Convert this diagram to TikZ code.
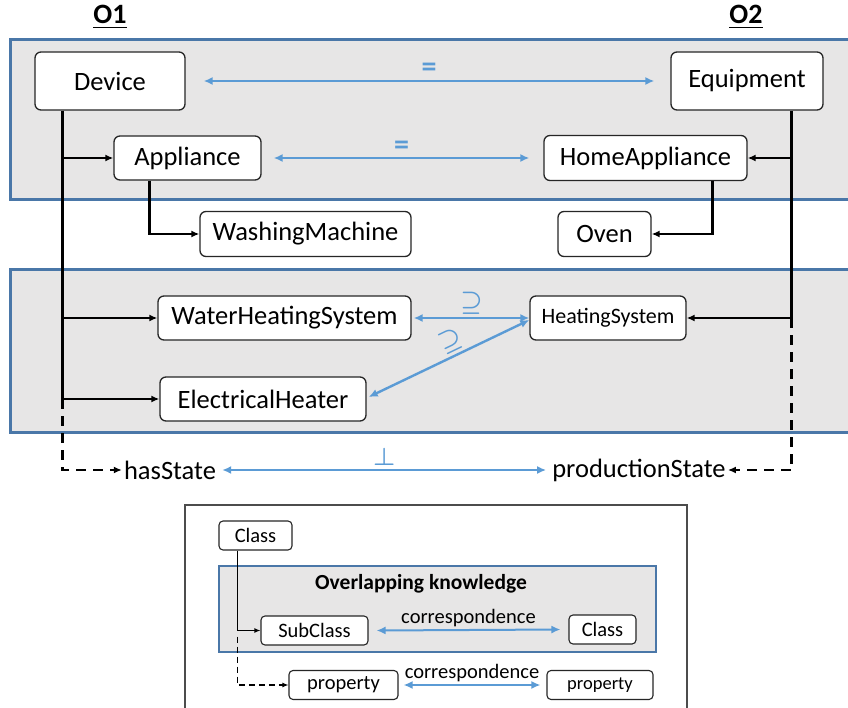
\documentclass[tikz,border=0pt]{standalone}
\usepackage{amsmath}
\usepackage{amssymb}
\usepackage{fontspec}
\setmainfont{Carlito}
\usepackage{xcolor}
\usepackage{tikz}
\usetikzlibrary{calc}
\usetikzlibrary{arrows.meta}
\usetikzlibrary{positioning}
\definecolor{bandblue}{HTML}{4A77A8}
\definecolor{bandgray}{HTML}{E7E6E6}
\definecolor{corblue}{HTML}{5B9BD5}
\tikzset{>=latex}
\tikzstyle{cls} = [draw=black!85, line width=1.3pt, rounded corners=6pt, fill=white, inner sep=0]
\tikzstyle{band} = [draw=bandblue, line width=3pt, fill=bandgray]
\tikzstyle{isa} = [-{Latex[length=8pt,width=7pt]}, line width=2.7pt]
\tikzstyle{prop} = [isa, dashed, dash pattern=on 10pt off 7pt]
\tikzstyle{cor} = [{Latex[length=9pt,width=8pt]}-{Latex[length=9pt,width=8pt]}, draw=corblue, line width=2.4pt]
\newcommand{\bigfont}{\fontsize{26.5}{30}\selectfont}
\newcommand{\smfont}{\fontsize{20.5}{24}\selectfont}
\newcommand{\symfont}{\fontsize{30}{32}\selectfont}

\begin{document}
\begin{tikzpicture}[x=1pt, y=-1pt]
\useasboundingbox (0,0) rectangle (848,708);
% overlapping bands
\draw [band] (10,40) rectangle (870,200);
\draw [band] (10,270) rectangle (870,432);
\node [font=\fontsize{28}{32}\selectfont\bfseries] (o1) at (110,17) {\underline{O1}};
\node [font=\fontsize{28}{32}\selectfont\bfseries] (o2) at (746,17) {\underline{O2}};
% classes
\node [cls, minimum width=150, minimum height=58, font=\bigfont] (dev) at (110,81) {Device};
\node [cls, minimum width=152, minimum height=58, font=\bigfont] (equip) at (747,81) {Equipment};
\node [cls, minimum width=147, minimum height=44, font=\bigfont] (appl) at (187.5,158) {Appliance};
\node [cls, minimum width=203, minimum height=45, font=\bigfont] (happl) at (645.5,158) {HomeAppliance};
\node [cls, minimum width=211, minimum height=45, font=\bigfont] (wm) at (305.5,234) {WashingMachine};
\node [cls, minimum width=93, minimum height=45, font=\bigfont] (oven) at (604.5,234) {Oven};
\node [cls, minimum width=253, minimum height=44, font=\bigfont] (whs) at (284.5,318) {WaterHeatingSystem};
\node [cls, minimum width=156, minimum height=44, font=\fontsize{22}{26}\selectfont] (hs) at (608,318) {HeatingSystem};
\node [cls, minimum width=206, minimum height=44, font=\bigfont] (eh) at (263,399) {ElectricalHeater};
\node [font=\bigfont, inner sep=2pt] (hasst) at (170,470) {hasState};
\node [font=\bigfont, inner sep=2pt] (prodst) at (639,470) {productionState};
% O1 hierarchy
\coordinate (o1top) at ($(dev.south west)+(28,0)$);
\draw [line width=2.7pt] (o1top) -- (o1top |- eh.west);
\draw [isa] (o1top |- appl.west) -- (appl.west);
\draw [isa] (o1top |- whs.west) -- (whs.west);
\draw [isa] (o1top |- eh.west) -- (eh.west);
\draw [isa] ($(appl.south west)+(36,0)$) |- (wm.west);
\draw [prop] (o1top |- eh.west) |- (hasst.west);
% O2 hierarchy
\coordinate (o2top) at ($(equip.south east)+(-32,0)$);
\draw [line width=2.7pt] (o2top) -- (o2top |- hs.east);
\draw [isa] (o2top |- happl.east) -- (happl.east);
\draw [isa] (o2top |- hs.east) -- (hs.east);
\draw [isa] ($(happl.south east)+(-35,0)$) |- (oven.east);
\draw [prop] (o2top |- hs.east) |- (prodst.east);
% correspondences
\draw [cor] ($(dev.east)+(18,0)$) -- node [above=0pt, text=corblue, font=\symfont\bfseries] {=} ($(equip.west)+(-16,0)$);
\draw [cor] ($(appl.east)+(12,0)$) -- node [above=-1pt, text=corblue, font=\symfont\bfseries] {=} ($(happl.west)+(-14,0)$);
\draw [cor] ($(whs.east)+(2,0)$) -- node [above=-1pt, text=corblue, font=\symfont] {$\boldsymbol{\supseteq}$} (hs.west);
\draw [cor] ($(eh.east)+(2,-2)$) -- node [sloped, above=-1pt, pos=0.55, text=corblue, font=\symfont] {$\boldsymbol{\supseteq}$} ($(hs.west)+(0,2)$);
\draw [cor] ($(hasst.east)+(4,0)$) -- node [above=0pt, text=corblue, font=\symfont] {$\boldsymbol{\perp}$} ($(prodst.west)+(-4,0)$);
% legend
\draw [draw=black!70, line width=1.3pt, fill=white] (185,505) rectangle (687,712);
\draw [draw=bandblue, line width=2.5pt, fill=bandgray] (219,566) rectangle (656,652);
\node [font=\fontsize{21.5}{25}\selectfont\bfseries] (ovtitle) at (421,584) {Overlapping knowledge};
\node [cls, line width=1.1pt, rounded corners=4pt, minimum width=73, minimum height=29, font=\smfont] (lcls) at (255.5,535.5) {Class};
\node [cls, line width=1.1pt, rounded corners=4pt, minimum width=107, minimum height=29, font=\smfont] (lsub) at (314.5,630.5) {SubClass};
\node [cls, line width=1.1pt, rounded corners=4pt, minimum width=67, minimum height=29, font=\smfont] (rcls) at (602.5,629.5) {Class};
\node [cls, line width=1.1pt, rounded corners=4pt, minimum width=109, minimum height=29, font=\smfont] (lprop) at (343.5,685) {property};
\node [cls, line width=1.1pt, rounded corners=4pt, minimum width=106, minimum height=29, font=\fontsize{18.5}{22}\selectfont] (rprop) at (600,685) {property};
\coordinate (lgtop) at ($(lcls.south west)+(19,0)$);
\draw [-{Latex[length=6pt,width=5pt]}, line width=1.6pt] (lgtop) |- (lsub.west);
\draw [-{Latex[length=6pt,width=5pt]}, line width=1.6pt, dashed, dash pattern=on 6pt off 4pt] ($(lgtop |- lsub.west)+(0,6)$) |- (lprop.west);
\draw [cor, line width=2pt] ($(lsub.east)+(8,0)$) -- node [above=-1pt, text=black, font=\smfont] {correspondence} ($(rcls.west)+(-8,0)$);
\draw [cor, line width=2pt] ($(lprop.east)+(5,0)$) -- node [above=-1pt, text=black, font=\smfont] {correspondence} ($(rprop.west)+(-6,0)$);
\end{tikzpicture}
\end{document}
